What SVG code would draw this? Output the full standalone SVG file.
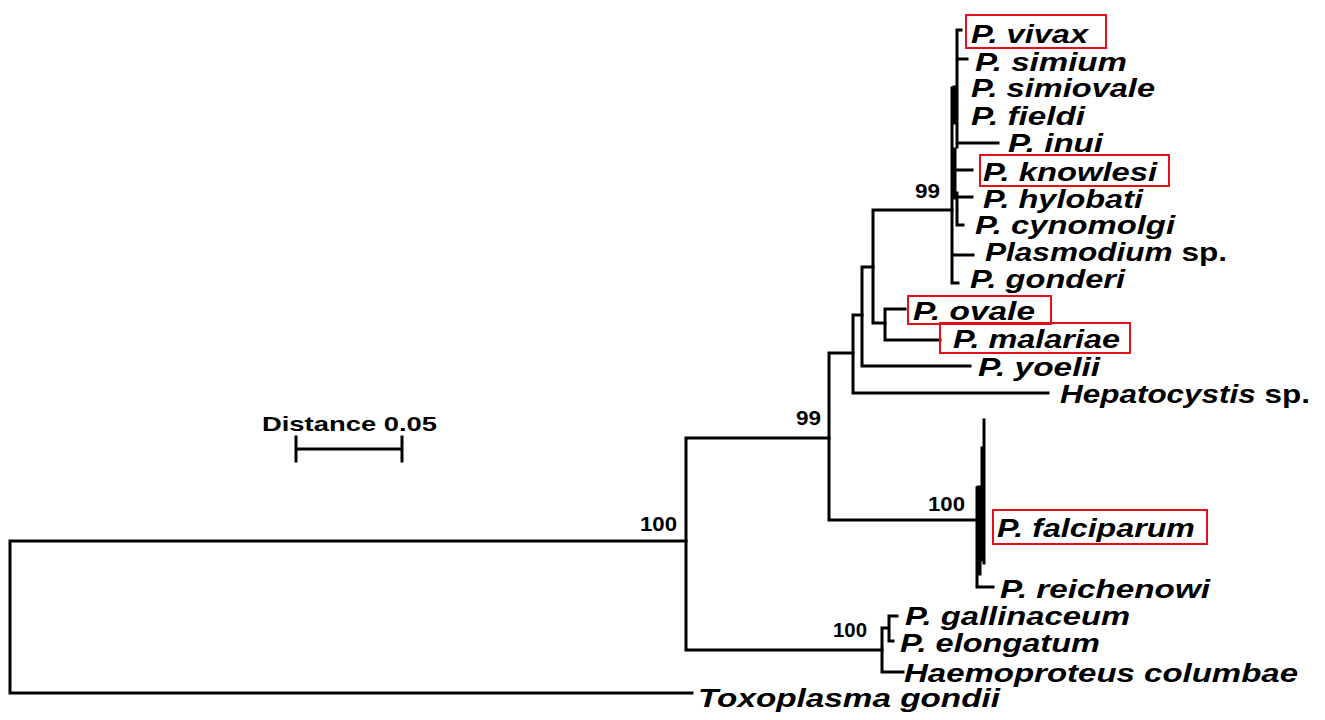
<svg xmlns="http://www.w3.org/2000/svg" width="1325" height="720" viewBox="0 0 1325 720">
<style>
.br{fill:none;stroke:#000;stroke-width:3;stroke-linecap:square}
.th{stroke-width:5}
.tx{font-family:"Liberation Sans",Arial,sans-serif;font-weight:bold;font-style:italic;font-size:25px;fill:#000}
.n{font-style:normal}
.bs{font-family:"Liberation Sans",Arial,sans-serif;font-weight:bold;font-size:21px;fill:#000}
.box{fill:none;stroke:#e3101c;stroke-width:2}
</style>
<rect width="1325" height="720" fill="#fff"/>
<g id="connectors">
<path class="br" d="M10,541 V693 M10,541 H686 M10,693 H692"/>
<path class="br" d="M686,438 V650 M686,438 H829 M686,650 H882"/>
<path class="br" d="M829,353 V520 M829,353 H853 M829,520 H977"/>
<path class="br" d="M853,315 V393 M853,393 H1048 M853,315 H862"/>
<path class="br" d="M862,267 V366 M862,366 H970 M862,267 H873"/>
<path class="br" d="M873,210 V323 M873,210 H952 M873,323 H885"/>
<path class="br" d="M885,309 V340 M885,309 H905 M885,340 H940"/>
<path class="br" d="M952,88 V283 M952,255 H973 M952,283 H958"/>
<path class="br th" d="M954,150 V197"/>
<path class="br" d="M957,30 V147 M957,30 H961 M957,59 H967 M957,143 H998"/>
<path class="br th" d="M955,88 V122"/>
<path class="br" d="M955,170 H972 M957,197 H972 M957,193 V225 M957,225 H963"/>
<path class="br" d="M977,488 V587 M977,587 H993"/>
<path class="br th" d="M979,488 V573"/>
<path class="br" d="M982,448 V560 M984,420 V563"/>
<path class="br" d="M882,628 V672 M882,672 H903 M882,628 H889 M889,616 V641 M889,616 H897 M889,641 H893"/>
</g>
<g id="scale">
<path class="br" d="M296,449 H402 M296,437 V461 M402,437 V461"/>
<text class="bs" x="262" y="431" font-size="24" textLength="175" lengthAdjust="spacingAndGlyphs">Distance 0.05</text>
</g>
<g id="bootstrap">
<text class="bs" x="915" y="198" textLength="25" lengthAdjust="spacingAndGlyphs">99</text>
<text class="bs" x="796" y="425" textLength="25" lengthAdjust="spacingAndGlyphs">99</text>
<text class="bs" x="640" y="531" textLength="37" lengthAdjust="spacingAndGlyphs">100</text>
<text class="bs" x="928" y="511" textLength="37" lengthAdjust="spacingAndGlyphs">100</text>
<text class="bs" x="833" y="637" textLength="34" lengthAdjust="spacingAndGlyphs">100</text>
</g>
<g id="n-vivax"><rect class="box" x="966" y="15" width="140" height="33"/><text class="tx" x="971" y="43" textLength="117" lengthAdjust="spacingAndGlyphs">P. vivax</text></g>
<g id="n-simium"><text class="tx" x="975" y="71" textLength="152" lengthAdjust="spacingAndGlyphs">P. simium</text></g>
<g id="n-simiovale"><text class="tx" x="971" y="97" textLength="184" lengthAdjust="spacingAndGlyphs">P. simiovale</text></g>
<g id="n-fieldi"><text class="tx" x="971" y="125" textLength="114" lengthAdjust="spacingAndGlyphs">P. fieldi</text></g>
<g id="n-inui"><text class="tx" x="1008" y="152" textLength="95" lengthAdjust="spacingAndGlyphs">P. inui</text></g>
<g id="n-knowlesi"><rect class="box" x="980" y="155" width="189" height="31"/><text class="tx" x="983" y="181" textLength="174" lengthAdjust="spacingAndGlyphs">P. knowlesi</text></g>
<g id="n-hylobati"><text class="tx" x="983" y="208" textLength="160" lengthAdjust="spacingAndGlyphs">P. hylobati</text></g>
<g id="n-cynomolgi"><text class="tx" x="975" y="234" textLength="200" lengthAdjust="spacingAndGlyphs">P. cynomolgi</text></g>
<g id="n-plasmodium-sp"><text class="tx" x="985" y="261" textLength="242" lengthAdjust="spacingAndGlyphs">Plasmodium<tspan class="n"> sp.</tspan></text></g>
<g id="n-gonderi"><text class="tx" x="970" y="288" textLength="155" lengthAdjust="spacingAndGlyphs">P. gonderi</text></g>
<g id="n-ovale"><rect class="box" x="908" y="296" width="143" height="28"/><text class="tx" x="913" y="320" textLength="122" lengthAdjust="spacingAndGlyphs">P. ovale</text></g>
<g id="n-malariae"><rect class="box" x="940" y="323" width="190" height="30"/><text class="tx" x="953" y="348" textLength="167" lengthAdjust="spacingAndGlyphs">P. malariae</text></g>
<g id="n-yoelii"><text class="tx" x="978" y="376" textLength="122" lengthAdjust="spacingAndGlyphs">P. yoelii</text></g>
<g id="n-hepatocystis"><text class="tx" x="1060" y="403" textLength="250" lengthAdjust="spacingAndGlyphs">Hepatocystis<tspan class="n"> sp.</tspan></text></g>
<g id="n-falciparum"><rect class="box" x="993" y="510" width="214" height="34"/><text class="tx" x="997" y="537" textLength="198" lengthAdjust="spacingAndGlyphs">P. falciparum</text></g>
<g id="n-reichenowi"><text class="tx" x="1000" y="598" textLength="210" lengthAdjust="spacingAndGlyphs">P. reichenowi</text></g>
<g id="n-gallinaceum"><text class="tx" x="905" y="625" textLength="225" lengthAdjust="spacingAndGlyphs">P. gallinaceum</text></g>
<g id="n-elongatum"><text class="tx" x="900" y="652" textLength="200" lengthAdjust="spacingAndGlyphs">P. elongatum</text></g>
<g id="n-haemoproteus"><text class="tx" x="904" y="682" textLength="394" lengthAdjust="spacingAndGlyphs">Haemoproteus columbae</text></g>
<g id="n-toxoplasma"><text class="tx" x="698" y="707" textLength="302" lengthAdjust="spacingAndGlyphs">Toxoplasma gondii</text></g>
</svg>
